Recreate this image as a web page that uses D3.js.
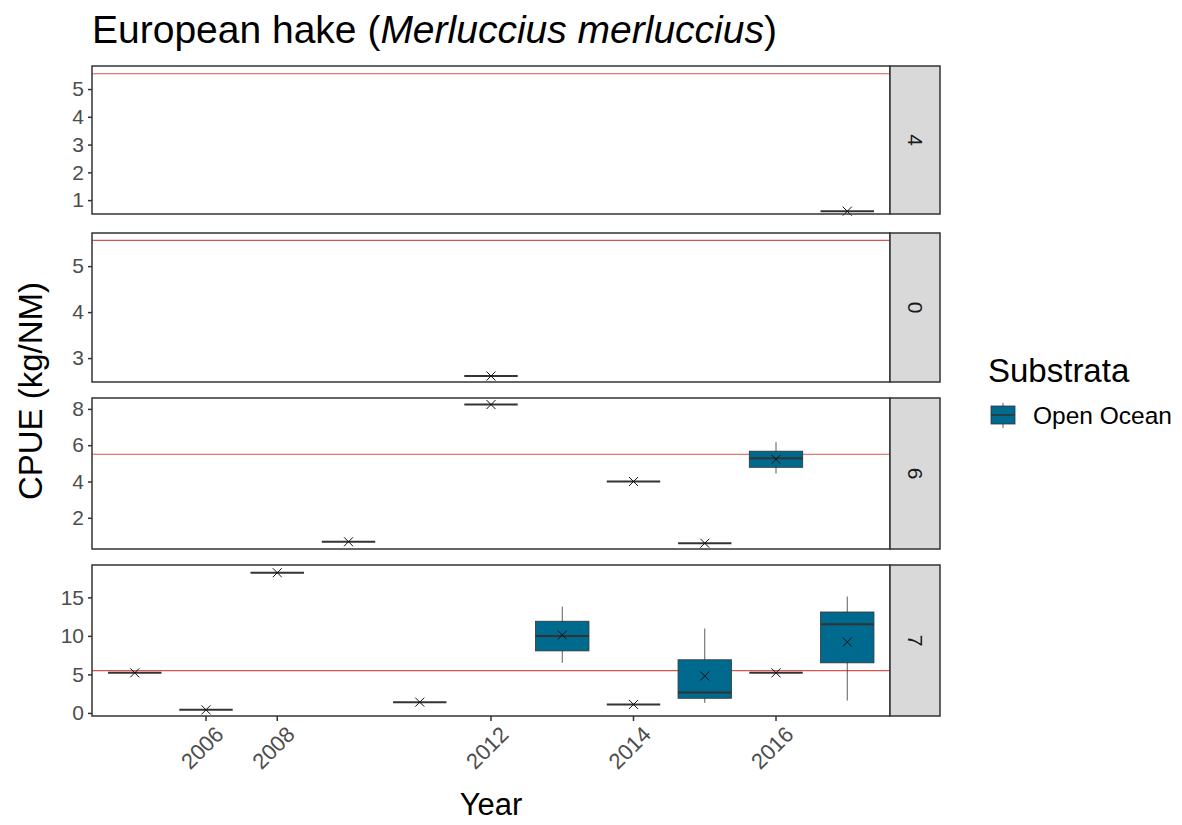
<!DOCTYPE html>
<html><head><meta charset="utf-8">
<script src="https://cdn.jsdelivr.net/npm/d3@7"></script>
<style>body{margin:0;background:#fff}text{font-family:Arial,"Liberation Sans",sans-serif}</style>
</head><body><svg id="c" width="1182" height="825"></svg>
<script>
const years = ["2005","2006","2008","2010","2011","2012","2013","2014","2015","2016","2017"];
const labeledYears = ["2006","2008","2012","2014","2016"];
const facets = ["4","0","6","7"];
const facetDomains = [[0.5,5.83],[2.48,5.72],[0.28,8.6],[-0.4,19.2]];
const facetTicks = [[1,2,3,4,5],[3,4,5],[2,4,6,8],[0,5,10,15]];
const refLine = [5.55,5.56,5.5,5.5];
// [facet, year, lowWhisker, q1, median, q3, highWhisker, mean]
const boxes = [
 ["4","2017",0.6,0.6,0.6,0.6,0.6,0.6],
 ["0","2012",2.61,2.61,2.61,2.61,2.61,2.61],
 ["6","2010",0.68,0.68,0.68,0.68,0.68,0.68],
 ["6","2012",8.24,8.24,8.24,8.24,8.24,8.24],
 ["6","2014",4.0,4.0,4.0,4.0,4.0,4.0],
 ["6","2015",0.6,0.6,0.6,0.6,0.6,0.6],
 ["6","2016",4.44,4.78,5.28,5.67,6.17,5.22],
 ["7","2005",5.2,5.2,5.2,5.2,5.2,5.2],
 ["7","2006",0.4,0.4,0.4,0.4,0.4,0.4],
 ["7","2008",18.2,18.2,18.2,18.2,18.2,18.2],
 ["7","2011",1.4,1.4,1.4,1.4,1.4,1.4],
 ["7","2013",6.5,8.05,10.0,11.9,13.8,10.1],
 ["7","2014",1.1,1.1,1.1,1.1,1.1,1.1],
 ["7","2015",1.3,1.9,2.65,6.9,10.95,4.8],
 ["7","2016",5.2,5.2,5.2,5.2,5.2,5.2],
 ["7","2017",1.6,6.5,11.5,13.1,15.1,9.2]
];
const panelTops=[66,233,398,565], panelBots=[214,382,549,716];
const L=92,R=890,SW=50,fill="#006a8e";
const svg=d3.select("#c");
const x=d3.scalePoint().domain(years).range([L,R]).padding(0.6);
const xc=y=>x(y);
const bw=x.step()*0.75;
facets.forEach((f,i)=>{
  const y=d3.scaleLinear().domain(facetDomains[i]).range([panelBots[i],panelTops[i]]);
  const g=svg.append("g");
  g.append("line").attr("x1",L).attr("x2",R).attr("y1",y(refLine[i])).attr("y2",y(refLine[i])).attr("stroke","#d9534f").attr("stroke-width",1.2);
  boxes.filter(b=>b[0]===f).forEach(b=>{
    const cx=xc(b[1]);
    g.append("line").attr("x1",cx).attr("x2",cx).attr("y1",y(b[2])).attr("y2",y(b[6])).attr("stroke","#333").attr("stroke-width",0.8);
    g.append("rect").attr("x",cx-bw/2).attr("width",bw).attr("y",y(b[5])).attr("height",Math.max(0,y(b[3])-y(b[5]))).attr("fill",fill).attr("stroke","#333").attr("stroke-width",0.8);
    g.append("line").attr("x1",cx-bw/2).attr("x2",cx+bw/2).attr("y1",y(b[4])).attr("y2",y(b[4])).attr("stroke","#333").attr("stroke-width",2);
    const my=y(b[7]),s=4.5;
    g.append("path").attr("d",`M${cx-s},${my-s}L${cx+s},${my+s}M${cx-s},${my+s}L${cx+s},${my-s}`).attr("stroke","#111").attr("stroke-width",1);
  });
  const ax=g.append("g").attr("transform",`translate(${L},0)`).call(d3.axisLeft(y).tickValues(facetTicks[i]).tickSize(4).tickPadding(4).tickFormat(d3.format("d")));
  ax.select(".domain").remove();
  ax.selectAll("line").attr("stroke","#333").attr("stroke-width",1.5);
  ax.selectAll("text").attr("font-size",21).attr("fill","#4d4d4d");
  g.append("rect").attr("x",L).attr("y",panelTops[i]).attr("width",R-L).attr("height",panelBots[i]-panelTops[i]).attr("fill","none").attr("stroke","#333").attr("stroke-width",1.5);
  g.append("rect").attr("x",R).attr("y",panelTops[i]).attr("width",SW).attr("height",panelBots[i]-panelTops[i]).attr("fill","#d9d9d9").attr("stroke","#333").attr("stroke-width",1.5);
  const my=(panelTops[i]+panelBots[i])/2;
  g.append("text").attr("transform",`translate(${R+SW/2},${my}) rotate(90)`).attr("text-anchor","middle").attr("dy","0.35em").attr("font-size",21).attr("fill","#1a1a1a").text(f);
});
const xg=svg.append("g");
labeledYears.forEach(yr=>{
  const cx=xc(yr);
  xg.append("line").attr("x1",cx).attr("x2",cx).attr("y1",716).attr("y2",721).attr("stroke","#333").attr("stroke-width",1.5);
  xg.append("text").attr("transform",`translate(${cx+8},${725}) rotate(-45)`).attr("text-anchor","end").attr("dy","0.7em").attr("font-size",22).attr("fill","#4d4d4d").text(yr);
});
svg.append("text").attr("x",(L+R)/2).attr("y",815).attr("text-anchor","middle").attr("font-size",31).attr("fill","#000").text("Year");
svg.append("text").attr("transform","translate(42,391) rotate(-90)").attr("text-anchor","middle").attr("font-size",33).text("CPUE (kg/NM)");
const t=svg.append("text").attr("x",92).attr("y",43).attr("font-size",39);
t.append("tspan").text("European hake (");
t.append("tspan").attr("font-style","italic").text("Merluccius merluccius");
t.append("tspan").text(")");
svg.append("text").attr("x",988).attr("y",382).attr("font-size",33).text("Substrata");
svg.append("line").attr("x1",1003).attr("x2",1003).attr("y1",403).attr("y2",428).attr("stroke","#333").attr("stroke-width",0.8);
svg.append("rect").attr("x",991).attr("y",406).attr("width",24).attr("height",18).attr("fill",fill).attr("stroke","#333").attr("stroke-width",0.8);
svg.append("line").attr("x1",991).attr("x2",1015).attr("y1",415).attr("y2",415).attr("stroke","#333").attr("stroke-width",1.5);
svg.append("text").attr("x",1033).attr("y",424).attr("font-size",24.5).text("Open Ocean");
</script></body></html>
